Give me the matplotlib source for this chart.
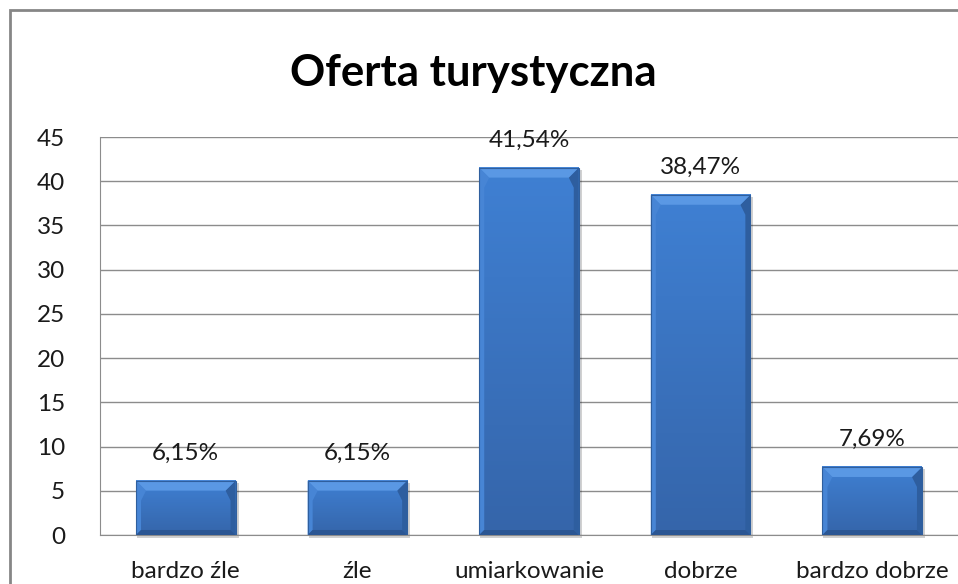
import matplotlib
matplotlib.use("Agg")
import matplotlib.pyplot as plt
from matplotlib.patches import Polygon, Rectangle
import numpy as np

categories = ["bardzo źle", "źle", "umiarkowanie", "dobrze", "bardzo dobrze"]
values = [6.15, 6.15, 41.54, 38.47, 7.69]
value_labels = ["6,15%", "6,15%", "41,54%", "38,47%", "7,69%"]
yticks = [0, 5, 10, 15, 20, 25, 30, 35, 40, 45]
title = "Oferta turystyczna"

W, H = 958, 584
fig = plt.figure(figsize=(W / 100, H / 100), dpi=100)
fig.patch.set_facecolor("white")

# outer chart frame
fig.add_artist(Rectangle((10 / W, -0.1), 1.2, (H - 10) / H + 0.1, transform=fig.transFigure,
                         fill=False, edgecolor="#868686", linewidth=2))

left, right, top, bottom = 100, 958, 137, 535
ax = fig.add_axes([left / W, (H - bottom) / H, (right - left) / W, (bottom - top) / H])
ax.set_xlim(-0.5, len(categories) - 0.5)
ax.set_ylim(0, 45)
ax.set_yticks(yticks)
ax.set_xticks(range(len(categories)))
ax.set_xticklabels(categories)
font = "Lato"
fs = 17.5
for lab in ax.get_yticklabels() + ax.get_xticklabels():
    lab.set_fontfamily(font)
    lab.set_fontsize(fs)
    lab.set_color("#1a1a1a")
ax.tick_params(axis="both", length=0)
ax.tick_params(axis="y", pad=25)
ax.tick_params(axis="x", pad=19)
ax.grid(axis="y", color="#8c8c8c", linewidth=1)
ax.set_axisbelow(True)
for s in ["top", "right"]:
    ax.spines[s].set_visible(False)
ax.spines["left"].set_color("#8c8c8c")
ax.spines["bottom"].set_color("#8c8c8c")

bw = 0.58
bars = ax.bar(range(len(categories)), values, width=bw, color="#3b7bcb", zorder=3,
              edgecolor="none")

# pixel -> data conversion
px_x = (len(categories)) / (right - left)
px_y = 45 / (bottom - top)
cmap = matplotlib.colors.LinearSegmentedColormap.from_list("g", ["#3565aa", "#3f80d3"])

for i, v in enumerate(values):
    x0, x1 = i - bw / 2, i + bw / 2
    tb, sb = 10, 5
    # shadow
    ax.add_patch(Rectangle((x0 + 1 * px_x, -3 * px_y), bw + 2 * px_x, v + 1 * px_y, color="#000000",
                           alpha=0.18, zorder=2.5, linewidth=0, clip_on=False))
    # vertical gradient in face
    grad = np.linspace(0, 1, 100).reshape(-1, 1)
    ax.imshow(grad, extent=(x0, x1, 0, v), origin="lower", aspect="auto", zorder=3.1, cmap=cmap)
    # bevels
    ax.add_patch(Polygon([(x0, v), (x1, v), (x1 - tb * px_x, v - tb * px_y), (x0 + tb * px_x, v - tb * px_y)],
                         closed=True, color="#5a98e4", zorder=3.2, linewidth=0))
    ax.add_patch(Polygon([(x0, 0), (x0, v), (x0 + tb * px_x, v - tb * px_y), (x0 + sb * px_x, v - 2 * tb * px_y),
                          (x0 + sb * px_x, sb * px_y)],
                         closed=True, color="#4785d5", zorder=3.15, linewidth=0))
    ax.add_patch(Polygon([(x1, 0), (x1, v), (x1 - tb * px_x, v - tb * px_y), (x1 - sb * px_x, v - 2 * tb * px_y),
                          (x1 - sb * px_x, sb * px_y)],
                         closed=True, color="#2e5e9f", zorder=3.15, linewidth=0))
    ax.add_patch(Polygon([(x0, 0), (x1, 0), (x1 - sb * px_x, sb * px_y), (x0 + sb * px_x, sb * px_y)],
                         closed=True, color="#2b5693", zorder=3.2, linewidth=0))
    ax.add_patch(Rectangle((x0, 0), bw, v, fill=False, edgecolor="#2f5f9e", linewidth=0.8, zorder=3.3))
    ax.text(i, v + 17 * px_y, value_labels[i], ha="center", va="bottom", fontsize=fs,
            fontfamily=font, color="#1a1a1a", zorder=4)

ax.set_xlim(-0.5, len(categories) - 0.5)
ax.set_ylim(0, 45)

fig.text(473 / W, 1 - 73 / H, title, ha="center", va="center", fontsize=31.5,
         fontweight="bold", fontfamily=font, color="black")

fig.savefig("out.png", dpi=100)
